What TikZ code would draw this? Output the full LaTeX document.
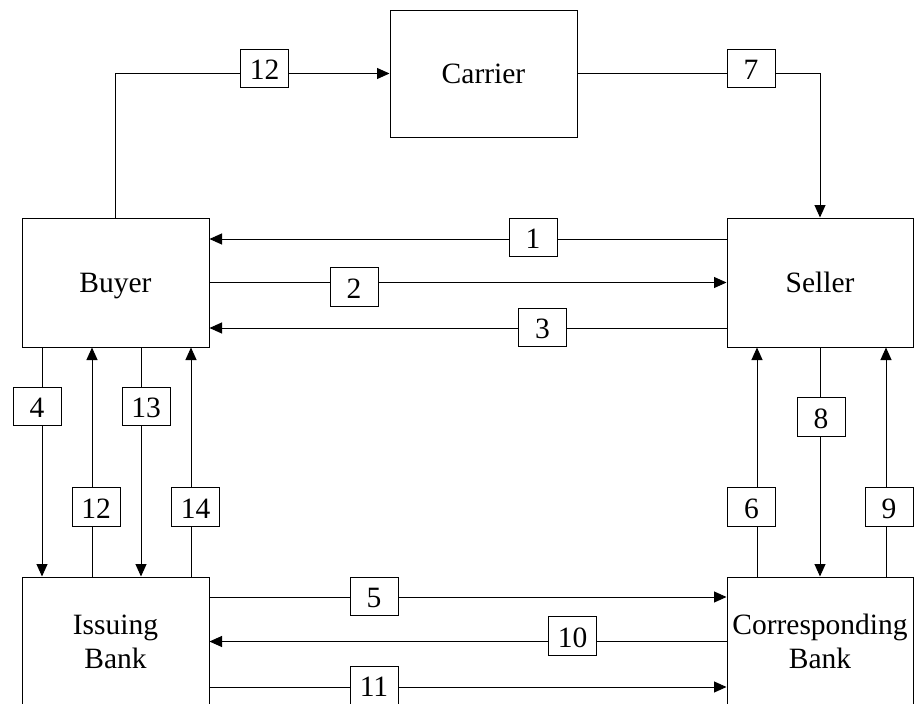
\documentclass[tikz,border=0pt]{standalone}
\usepackage{fontspec}
\setmainfont{Liberation Serif}
\usetikzlibrary{arrows.meta}
\begin{document}
\begin{tikzpicture}[x=1pt,y=-1pt,
  party/.style={draw, line width=1pt, inner sep=0pt, align=center,
    minimum width=187pt, minimum height=129pt,
    font=\fontsize{29.5}{34}\selectfont},
  oneline/.style={text height=19.5pt, text depth=0pt},
  tag/.style={draw, fill=white, line width=1pt, minimum width=48pt,
    minimum height=38.5pt, inner sep=0pt, text height=22pt, text depth=0pt,
    font=\fontsize{29.5}{34}\selectfont},
  flow/.style={line width=1pt, -{Triangle[length=12.5pt,width=11pt]}}]
\useasboundingbox (0,0) rectangle (914,704);
\clip (0,0) rectangle (914,704);

% parties
\node[party, oneline, minimum height=127pt] (carrier) at (483.5,73.5) {Carrier};
\node[party, oneline] (buyer)   at (115.5,282.5) {Buyer};
\node[party, oneline, minimum width=186pt] (seller) at (820,282.5) {Seller};
\node[party] (issuing) at (115.5,641.5) {Issuing\\Bank};
\node[party, minimum width=186pt] (corr) at (820,641.5) {Corresponding\\Bank};

% flows between parties
\draw[flow] (buyer.north) |- (carrier.west);
\draw[flow] (carrier.east) -| (seller.north);
\draw[flow] ([yshift=43.5pt]seller.west) -- ([yshift=43.5pt]buyer.east);
\draw[flow] (buyer.east) -- (seller.west);
\draw[flow] ([yshift=-45.5pt]seller.west) -- ([yshift=-45.5pt]buyer.east);
\draw[flow] ([xshift=-73.5pt]buyer.south) -- ([xshift=-73.5pt]issuing.north);
\draw[flow] ([xshift=-23.5pt]issuing.north) -- ([xshift=-23.5pt]buyer.south);
\draw[flow] ([xshift=25.5pt]buyer.south) -- ([xshift=25.5pt]issuing.north);
\draw[flow] ([xshift=75.5pt]issuing.north) -- ([xshift=75.5pt]buyer.south);
\draw[flow] ([yshift=44.5pt]issuing.east) -- ([yshift=44.5pt]corr.west);
\draw[flow] (corr.west) -- (issuing.east);
\draw[flow] ([yshift=-45.5pt]issuing.east) -- ([yshift=-45.5pt]corr.west);
\draw[flow] ([xshift=-63pt]corr.north) -- ([xshift=-63pt]seller.south);
\draw[flow] (seller.south) -- (corr.north);
\draw[flow] ([xshift=66pt]corr.north) -- ([xshift=66pt]seller.south);

% step numbers
\node[tag] (t12a) at (264.5,68.3) {12};
\node[tag] (t7)   at (751,68.3)   {7};
\node[tag] (t1)   at (533,237.5)  {1};
\node[tag] (t2)   at (354,287)    {2};
\node[tag] (t3)   at (542.5,327.5) {3};
\node[tag] (t4)   at (37,406.5)   {4};
\node[tag] (t13)  at (146,406.5)  {13};
\node[tag] (t12b) at (96,507)     {12};
\node[tag] (t14)  at (195.5,507)  {14};
\node[tag] (t8)   at (821,417)    {8};
\node[tag] (t6)   at (751.5,507)  {6};
\node[tag] (t9)   at (889,507)    {9};
\node[tag] (t5)   at (374,596.5)  {5};
\node[tag] (t10)  at (572.5,636)  {10};
\node[tag] (t11)  at (374,685.5)  {11};
\end{tikzpicture}
\end{document}
